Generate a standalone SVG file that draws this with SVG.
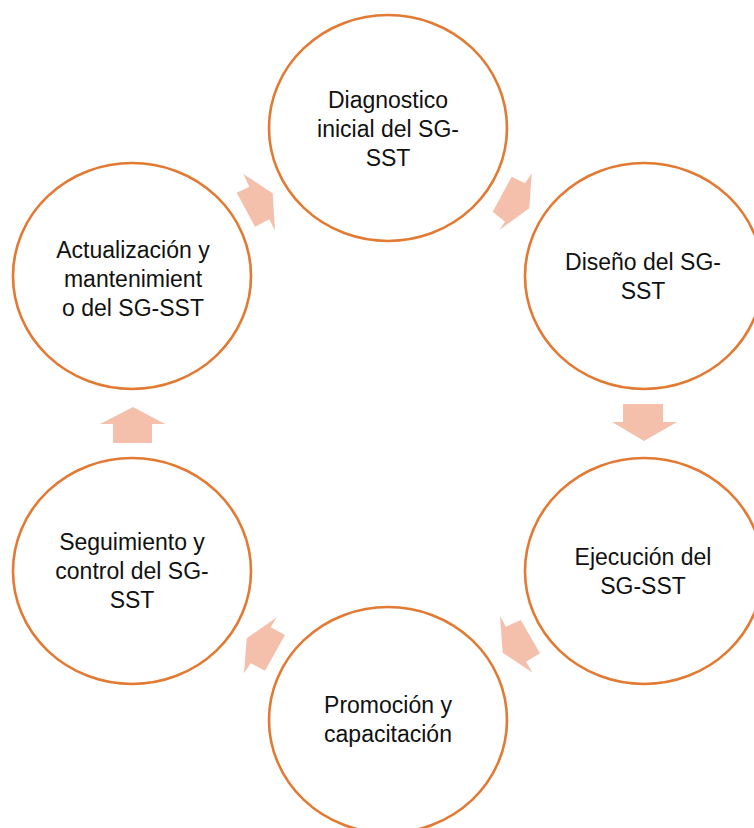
<svg xmlns="http://www.w3.org/2000/svg" width="754" height="828" viewBox="0 0 754 828">
<style>
.node ellipse{fill:#fff;stroke:#E27A33;stroke-width:2.6}
.node text{font-family:"Liberation Sans",Arial,sans-serif;font-size:23px;fill:#111;text-anchor:middle}
.arr{fill:#F4C0AC;stroke:none}
</style>
<rect width="754" height="828" fill="#fff"/>
<g id="connectors">
<polygon class="arr" points="272.7,193.3 243.3,174 249.3,186.7 236.7,192.7 255,226.7 269.3,219.3 275,230.7"/>
<polygon class="arr" points="529.3,208.3 531.7,173.3 525,183.3 511.7,176.7 492.7,211.7 505,221.7 499.3,230"/>
<polygon class="arr" points="623,404 663,404 663,422 677,422 644,441 612,422 623,422"/>
<polygon class="arr" points="502.7,652.7 500,616 506,626.7 520.7,620 540,653.3 526,661.7 532.7,672.7"/>
<polygon class="arr" points="246.7,638.3 276.7,617.3 270.7,627.3 285,635 265,670.7 250.7,663.3 244,673.3"/>
<polygon class="arr" points="133,407 165,424 152,424 152,443 113,443 113,424 100,424"/>
</g>
<g id="n1" class="node">
<ellipse cx="388" cy="128" rx="119" ry="113"/>
<text x="388" y="108">Diagnostico</text>
<text x="388" y="137">inicial del SG-</text>
<text x="388" y="166">SST</text>
</g>
<g id="n2" class="node">
<ellipse cx="644" cy="276" rx="119" ry="113"/>
<text x="643" y="270">Diseño del SG-</text>
<text x="643" y="299">SST</text>
</g>
<g id="n3" class="node">
<ellipse cx="644" cy="571" rx="119" ry="113"/>
<text x="643" y="565">Ejecución del</text>
<text x="643" y="594">SG-SST</text>
</g>
<g id="n4" class="node">
<ellipse cx="388" cy="720" rx="119" ry="113"/>
<text x="388" y="713">Promoción y</text>
<text x="388" y="742">capacitación</text>
</g>
<g id="n5" class="node">
<ellipse cx="132" cy="571" rx="119" ry="113"/>
<text x="132" y="550">Seguimiento y</text>
<text x="132" y="579">control del SG-</text>
<text x="132" y="608">SST</text>
</g>
<g id="n6" class="node">
<ellipse cx="132" cy="276" rx="119" ry="113"/>
<text x="133" y="258">Actualización y</text>
<text x="133" y="287">mantenimient</text>
<text x="133" y="316">o del SG-SST</text>
</g>
</svg>
